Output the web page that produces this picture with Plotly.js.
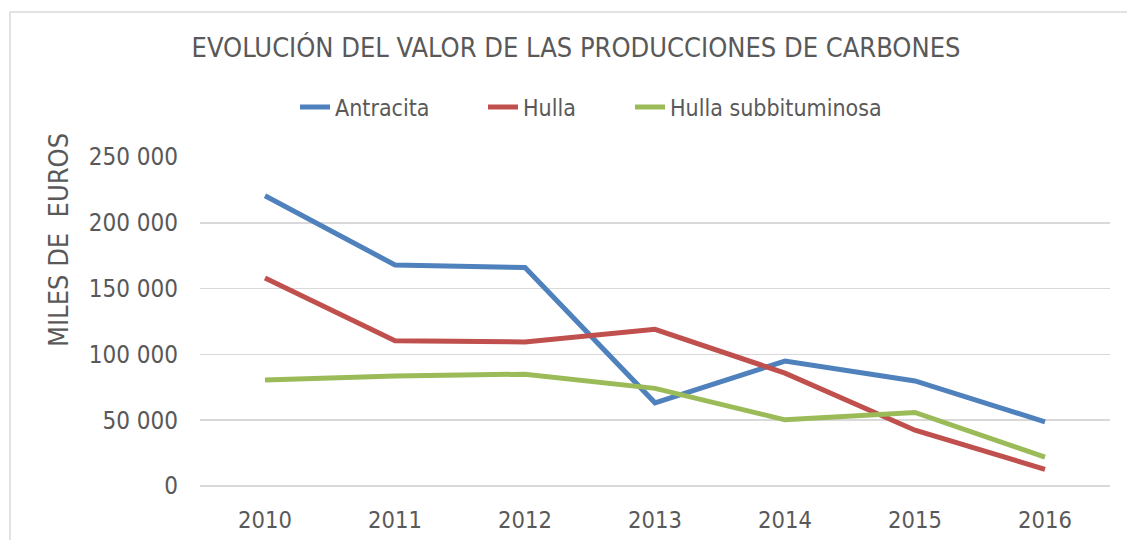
<!DOCTYPE html>
<html>
<head>
<meta charset="utf-8">
<script src="https://cdn.plot.ly/plotly-3.0.1.min.js"></script>
<style>html,body{margin:0;padding:0;background:#fff;}#chart{width:1127px;height:540px;}</style>
</head>
<body>
<div id="chart"></div>
<script>
const years = ["2010", "2011", "2012", "2013", "2014", "2015", "2016"];
const antracita = [220500, 168000, 166000, 63200, 94900, 79800, 48800];
const hulla = [158000, 110300, 109500, 119100, 85800, 42400, 12700];
const hullaSub = [80500, 83500, 85000, 74200, 50300, 55900, 21900];
const seriesNames = ["Antracita", "Hulla", "Hulla subbituminosa"];
const colors = ["#4F81BD", "#C0504D", "#9BBB59"];

const FONT = "'DejaVu Sans Condensed', 'Liberation Sans', sans-serif";
const TXT = "#595959";
const legendIds = ["legend", "legend2", "legend3"];
const legendTextStart = [337, 525, 672];

const traces = [antracita, hulla, hullaSub].map((vals, i) => ({
  x: years, y: vals, name: seriesNames[i], type: "scatter", mode: "lines",
  line: {color: colors[i], width: 5}, legend: legendIds[i]
}));

function legendAt(px) {
  return {orientation: "h", xref: "paper", x: (px - 42 - 200)/910, xanchor: "left",
    yref: "paper", y: (486-107)/329, yanchor: "middle",
    font: {family: FONT, size: 23, color: TXT}, bgcolor: "rgba(0,0,0,0)", borderwidth: 0};
}

const layout = {
  width: 1127, height: 540,
  margin: {l: 200, r: 17, t: 157, b: 54},
  paper_bgcolor: "#ffffff", plot_bgcolor: "#ffffff",
  font: {family: FONT, color: TXT, size: 24},
  title: {text: "EVOLUCIÓN DEL VALOR DE LAS PRODUCCIONES DE CARBONES",
    font: {family: FONT, size: 27, color: TXT},
    xref: "container", x: 576/1127, xanchor: "center",
    yref: "container", y: 1 - 48/540, yanchor: "middle"},
  showlegend: true,
  legend: legendAt(legendTextStart[0]),
  legend2: legendAt(legendTextStart[1]),
  legend3: legendAt(legendTextStart[2]),
  separators: ", ",
  xaxis: {type: "category", range: [-0.5, 6.5], showgrid: false, showline: false,
    ticks: "", ticklabelstandoff: 17, tickfont: {family: FONT, size: 23.5, color: TXT},
    fixedrange: true},
  yaxis: {range: [0, 250000], tickvals: [0, 50000, 100000, 150000, 200000, 250000],
    tickformat: ",d", showgrid: true, gridcolor: "#d9d9d9", gridwidth: 1.5,
    zeroline: true, zerolinecolor: "#d9d9d9", zerolinewidth: 1.5,
    showline: false, ticks: "", ticklabelstandoff: 21,
    tickfont: {family: FONT, size: 24, color: TXT}, fixedrange: true},
  annotations: [{text: "MILES DE  EUROS", textangle: -90, showarrow: false,
    xref: "paper", yref: "paper", x: (58-200)/910, y: (486-240)/329,
    xanchor: "center", yanchor: "middle",
    font: {family: FONT, size: 27, color: TXT}}],
  shapes: [{type: "rect", xref: "paper", yref: "paper",
    x0: (10-200)/910, x1: (1140-200)/910, y0: (486-560)/329, y1: (486-12)/329,
    line: {color: "#d9d9d9", width: 1.5}, fillcolor: "rgba(0,0,0,0)", layer: "below"}]
};

Plotly.newPlot("chart", traces, layout, {displayModeBar: false, staticPlot: true});
</script>
</body>
</html>
